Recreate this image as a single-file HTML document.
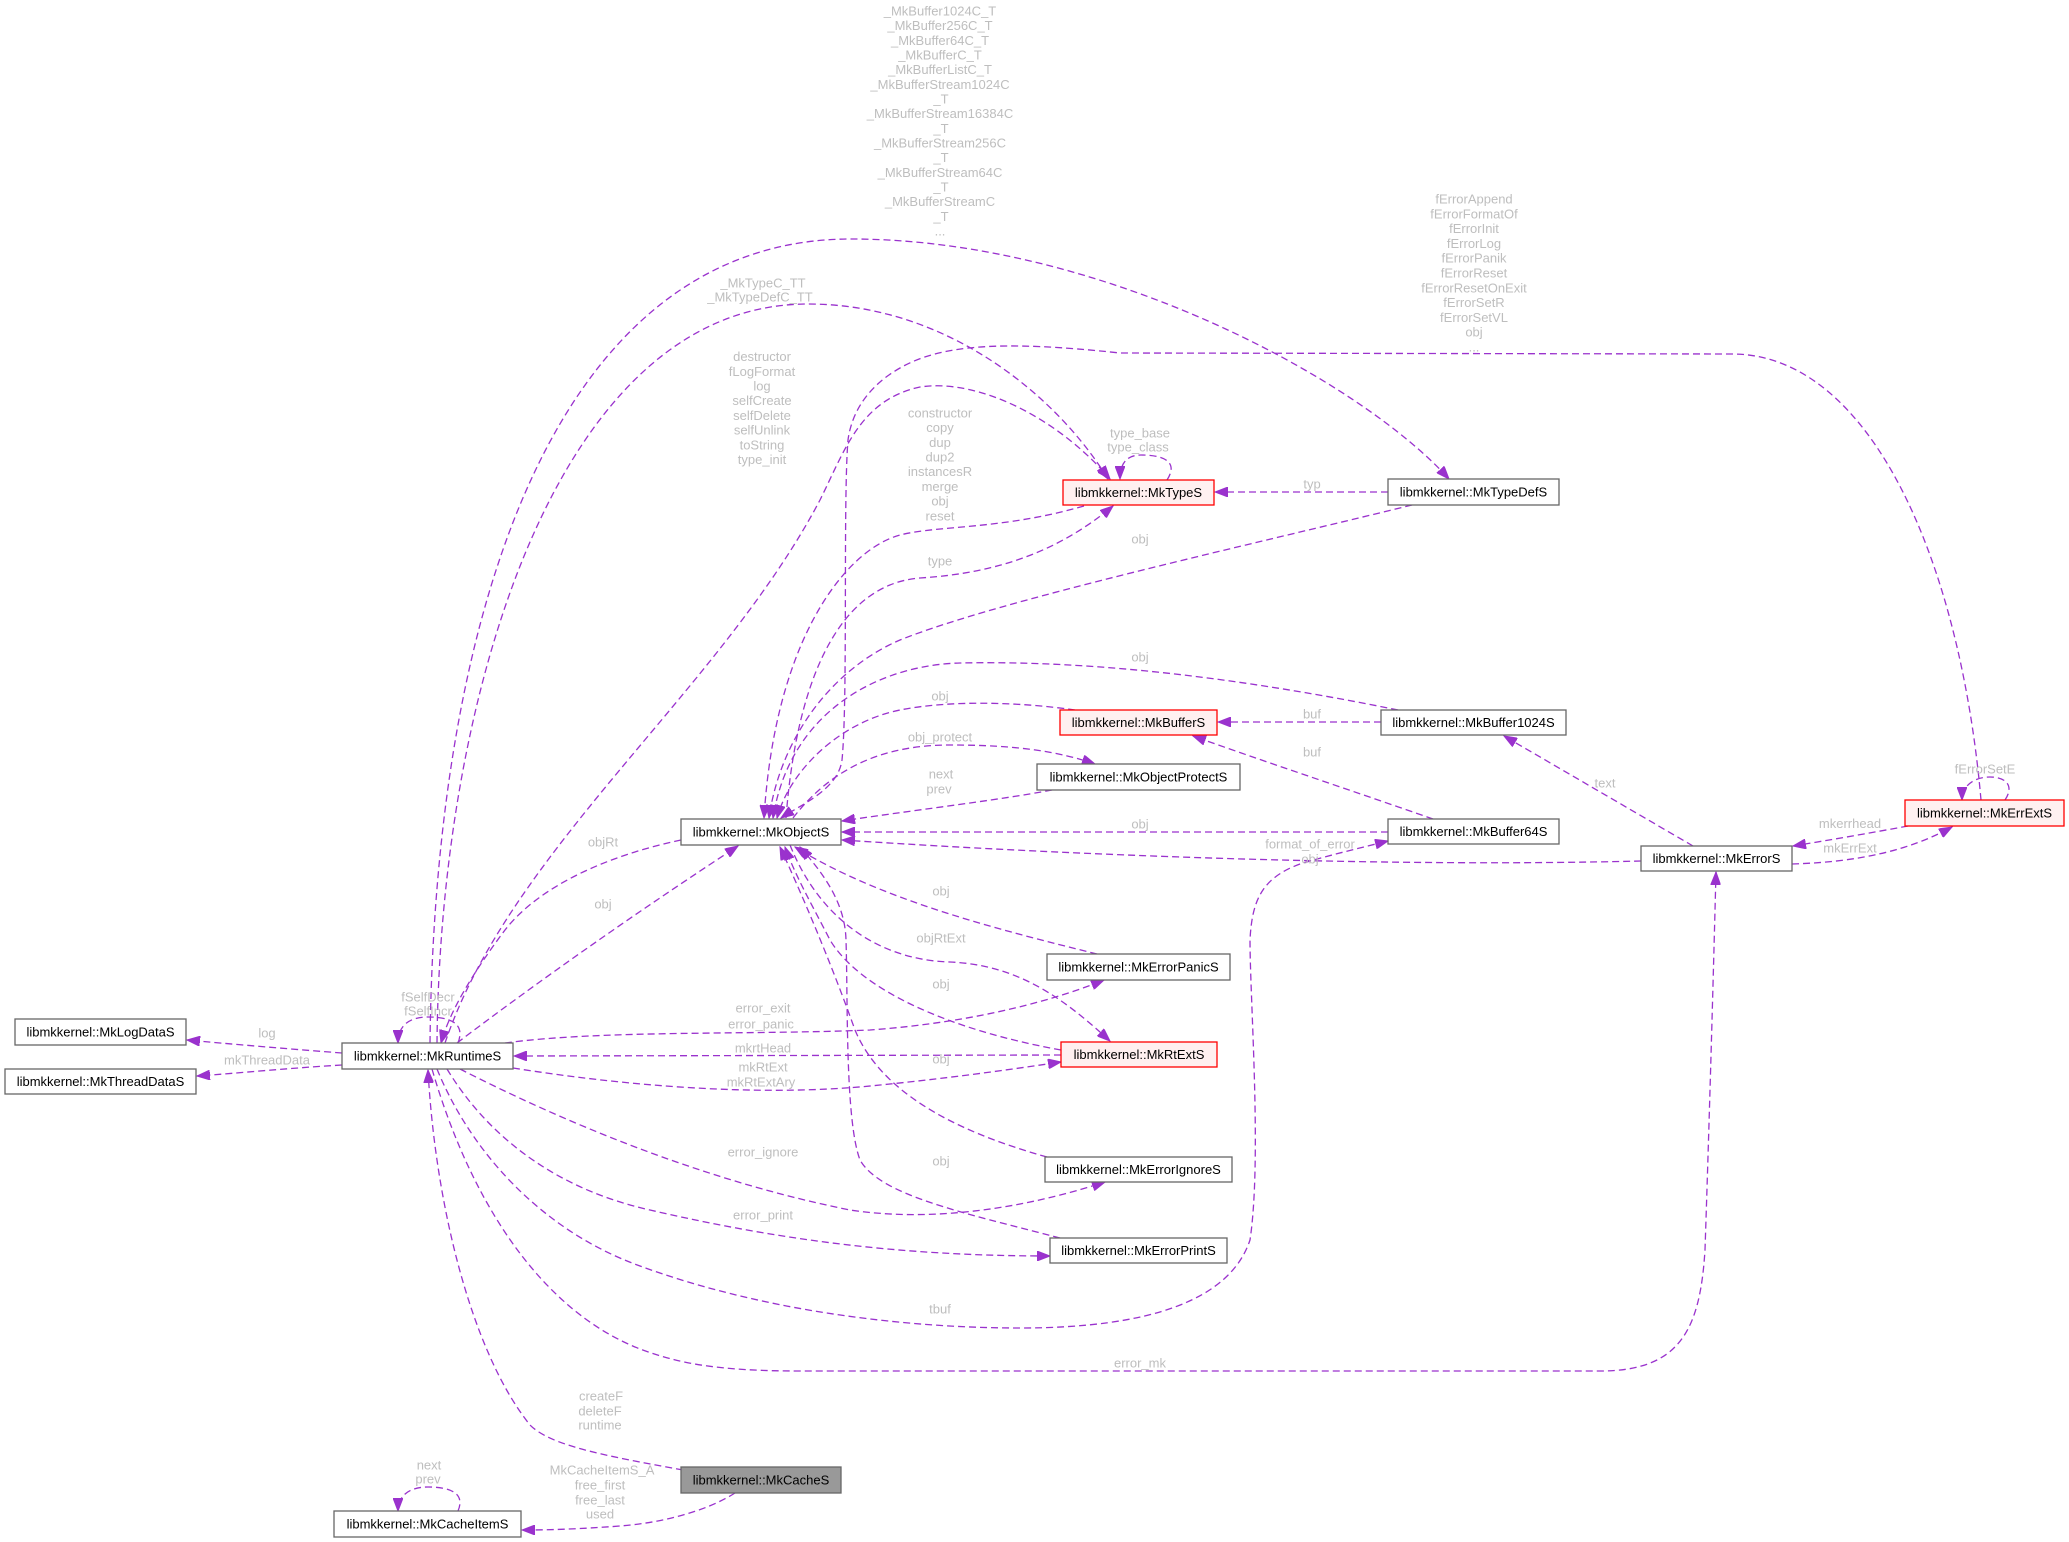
<!DOCTYPE html>
<html>
<head>
<meta charset="utf-8">
<style>
html,body{margin:0;padding:0;background:#fff;}
svg{display:block;font-family:"Liberation Sans",Arial,Helvetica,sans-serif;}
.e{fill:none;stroke:#9a32cd;stroke-width:1.3;stroke-dasharray:7,4;}
.ea{fill:none;stroke:#9a32cd;stroke-width:1.3;stroke-dasharray:7,4;marker-end:url(#ah);}
.l{fill:#bebebe;font-size:13px;text-anchor:middle;}
.n{fill:#000;font-size:13px;text-anchor:middle;}
.bw{fill:#fff;stroke:#666;stroke-width:1.3;}
.br{fill:#fff0f0;stroke:#ff0000;stroke-width:1.3;}
.bg{fill:#999;stroke:#666;stroke-width:1.3;}
</style>
</head>
<body>
<svg width="2069" height="1542" viewBox="0 0 2069 1542" xmlns="http://www.w3.org/2000/svg">
<defs>
<marker id="ah" markerWidth="14" markerHeight="10" refX="13" refY="5" orient="auto" markerUnits="userSpaceOnUse">
<path d="M0,0 L13,5 L0,10 z" fill="#9a32cd" stroke="#9a32cd" stroke-width="1"/>
</marker>
</defs>
<rect width="2069" height="1542" fill="#fff"/>

<!-- edges -->
<path class="ea" d="M342,1053 C290,1049 230,1044 187,1040"/>
<path class="ea" d="M342,1065 C290,1068 240,1073 197,1076"/>
<path class="ea" d="M458,1043 C466,1022 448,1017 428,1017 C410,1017 398,1025 398,1043"/>
<path class="ea" d="M683,1470 C600,1455 550,1445 530,1425 C470,1350 435,1200 428,1070"/>
<path class="ea" d="M735,1493 C705,1512 660,1523 620,1526 C580,1529 550,1530 522,1530"/>
<path class="ea" d="M458,1511 C466,1492 448,1487 428,1487 C410,1487 398,1495 398,1511"/>
<path class="ea" d="M457,1043 C540,980 640,910 738,846"/>
<path class="ea" d="M681,840 C610,855 540,885 505,930 C475,970 450,1010 441,1043"/>
<path class="ea" d="M430,1043 C435,600 560,239 851,239 C1100,239 1360,380 1449,479"/>
<path class="ea" d="M437,1043 C440,700 555,304 808,304 C950,304 1060,400 1108,479"/>
<path class="ea" d="M445,1043 C510,850 720,690 820,500 C845,450 860,400 920,387 C980,378 1060,420 1110,479"/>
<path class="ea" d="M1084,506 C1000,530 940,525 900,535 C845,550 775,640 764,818"/>
<path class="ea" d="M786,818 C795,700 830,585 920,578 C1000,573 1060,550 1113,506"/>
<path class="ea" d="M1167,480 C1180,460 1160,455 1141,455 C1128,455 1120,462 1120,479"/>
<path class="ea" d="M1388,492 L1215,492"/>
<path class="ea" d="M1412,505 C1250,545 1000,600 900,640 C830,670 780,740 769,818"/>
<path class="ea" d="M1398,710 C1250,680 1100,660 960,663 C880,665 790,710 773,818"/>
<path class="ea" d="M1075,710 C1020,702 950,700 900,710 C840,722 790,770 777,818"/>
<path class="ea" d="M793,818 C830,770 880,745 950,745 C1020,745 1060,752 1095,764"/>
<path class="ea" d="M1052,790 C1000,800 900,812 842,821"/>
<path class="ea" d="M1381,722 L1218,722"/>
<path class="ea" d="M1433,819 C1350,790 1260,760 1193,736"/>
<path class="ea" d="M1388,832 L842,832"/>
<path class="ea" d="M1641,861 C1400,867 1100,857 842,840"/>
<path class="ea" d="M437,1069 C470,1150 540,1230 640,1266 C760,1310 900,1328 1020,1328 C1150,1328 1230,1300 1250,1240 C1262,1160 1250,1000 1250,940 C1252,900 1262,878 1300,864 C1330,855 1360,848 1388,841"/>
<path class="ea" d="M432,1069 C470,1200 540,1310 640,1349 C680,1364 720,1371 800,1371 L1600,1371 C1680,1371 1700,1330 1705,1250 C1710,1100 1714,950 1716,872"/>
<path class="ea" d="M513,1068 C620,1085 760,1098 880,1085 C960,1077 1020,1068 1061,1062"/>
<path class="ea" d="M1061,1055 L514,1056"/>
<path class="ea" d="M505,1043 C600,1030 750,1035 870,1030 C980,1022 1060,998 1104,980"/>
<path class="ea" d="M460,1069 C560,1120 700,1180 850,1210 C950,1225 1050,1200 1105,1182"/>
<path class="ea" d="M447,1069 C490,1140 560,1190 650,1210 C780,1240 900,1256 1050,1256"/>
<path class="ea" d="M790,845 C820,920 880,960 950,962 C1020,965 1065,1000 1110,1041"/>
<path class="ea" d="M1061,1050 C950,1030 860,990 830,940 C812,905 795,875 785,847"/>
<path class="ea" d="M1097,954 C1000,930 880,900 795,847"/>
<path class="ea" d="M1047,1157 C950,1130 880,1090 855,1030 C830,960 800,890 780,847"/>
<path class="ea" d="M1060,1238 C960,1212 880,1195 860,1160 C845,1120 848,1000 846,940 C845,900 820,870 800,847"/>
<path class="ea" d="M1693,846 L1504,736"/>
<path class="ea" d="M1908,826 C1870,833 1830,840 1793,846"/>
<path class="ea" d="M1792,864 C1860,862 1910,850 1952,827"/>
<path class="ea" d="M2005,800 C2015,785 2005,777 1990,777 C1975,777 1962,785 1962,800"/>
<path class="ea" d="M1981,800 C1960,560 1870,354 1732,354 L1120,353 C1000,340 940,345 900,368 C870,385 852,410 848,440 C843,500 848,700 842,760 C838,790 800,805 781,818"/>

<!-- edge labels -->
<g class="l">
<text x="267" y="1037.5">log</text>
<text x="267" y="1064.5">mkThreadData</text>
<text x="428" y="1001.5">fSelfDecr</text>
<text x="428" y="1015.5">fSelfIncr</text>
<text x="601" y="1400.5">createF</text>
<text x="600" y="1415.5">deleteF</text>
<text x="600" y="1429.5">runtime</text>
<text x="602" y="1474.5">MkCacheItemS_A</text>
<text x="600" y="1489.5">free_first</text>
<text x="600" y="1504.5">free_last</text>
<text x="600" y="1518.5">used</text>
<text x="429" y="1469.5">next</text>
<text x="428" y="1483.5">prev</text>
<text x="603" y="846.5">objRt</text>
<text x="603" y="908.5">obj</text>

<text x="940" y="15.5">_MkBuffer1024C_T</text>
<text x="940" y="30.2">_MkBuffer256C_T</text>
<text x="940" y="44.8">_MkBuffer64C_T</text>
<text x="940" y="59.5">_MkBufferC_T</text>
<text x="940" y="74.2">_MkBufferListC_T</text>
<text x="940" y="88.8">_MkBufferStream1024C</text>
<text x="941" y="103.5">_T</text>
<text x="940" y="118.2">_MkBufferStream16384C</text>
<text x="941" y="132.8">_T</text>
<text x="940" y="147.5">_MkBufferStream256C</text>
<text x="941" y="162.2">_T</text>
<text x="940" y="176.8">_MkBufferStream64C</text>
<text x="941" y="191.5">_T</text>
<text x="940" y="206.2">_MkBufferStreamC</text>
<text x="941" y="220.8">_T</text>
<text x="940" y="235.5">...</text>

<text x="763" y="287.5">_MkTypeC_TT</text>
<text x="760" y="301.5">_MkTypeDefC_TT</text>

<text x="762" y="361">destructor</text>
<text x="762" y="375.8">fLogFormat</text>
<text x="762" y="390.5">log</text>
<text x="762" y="405.2">selfCreate</text>
<text x="762" y="419.9">selfDelete</text>
<text x="762" y="434.5">selfUnlink</text>
<text x="762" y="449.3">toString</text>
<text x="762" y="464">type_init</text>

<text x="940" y="417.5">constructor</text>
<text x="940" y="432.2">copy</text>
<text x="940" y="446.9">dup</text>
<text x="940" y="461.5">dup2</text>
<text x="940" y="476.2">instancesR</text>
<text x="940" y="490.9">merge</text>
<text x="940" y="505.5">obj</text>
<text x="940" y="520.3">reset</text>

<text x="940" y="565.5">type</text>
<text x="1140" y="437.5">type_base</text>
<text x="1138" y="451.5">type_class</text>
<text x="1312" y="488.5">typ</text>
<text x="1140" y="543.5">obj</text>
<text x="1140" y="661.5">obj</text>
<text x="940" y="700.5">obj</text>
<text x="940" y="741.5">obj_protect</text>
<text x="1312" y="718.5">buf</text>
<text x="1312" y="756.5">buf</text>
<text x="941" y="778.5">next</text>
<text x="939" y="793.5">prev</text>
<text x="1140" y="828.5">obj</text>
<text x="1310" y="848.5">format_of_error</text>
<text x="1310" y="863.5">obj</text>
<text x="941" y="895.5">obj</text>
<text x="941" y="942.5">objRtExt</text>
<text x="941" y="988.5">obj</text>
<text x="763" y="1012.5">error_exit</text>
<text x="761" y="1028.5">error_panic</text>
<text x="763" y="1052.5">mkrtHead</text>
<text x="941" y="1063.5">obj</text>
<text x="763" y="1071.5">mkRtExt</text>
<text x="761" y="1086.5">mkRtExtAry</text>
<text x="763" y="1156.5">error_ignore</text>
<text x="941" y="1165.5">obj</text>
<text x="763" y="1219.5">error_print</text>
<text x="940" y="1313.5">tbuf</text>
<text x="1140" y="1367.5">error_mk</text>

<text x="1474" y="203.5">fErrorAppend</text>
<text x="1474" y="218.3">fErrorFormatOf</text>
<text x="1474" y="233.1">fErrorInit</text>
<text x="1474" y="247.9">fErrorLog</text>
<text x="1474" y="262.7">fErrorPanik</text>
<text x="1474" y="277.5">fErrorReset</text>
<text x="1474" y="292.3">fErrorResetOnExit</text>
<text x="1474" y="307.1">fErrorSetR</text>
<text x="1474" y="321.9">fErrorSetVL</text>
<text x="1474" y="336.7">obj</text>
<text x="1474" y="351.5">...</text>

<text x="1605" y="787.5">text</text>
<text x="1850" y="828">mkerrhead</text>
<text x="1850" y="852.5">mkErrExt</text>
<text x="1985" y="773.5">fErrorSetE</text>
</g>

<!-- nodes -->
<rect class="bw" x="15" y="1019" width="171" height="26"/>
<text class="n" x="100.5" y="1036.5">libmkkernel::MkLogDataS</text>

<rect class="bw" x="5" y="1069" width="191" height="25"/>
<text class="n" x="100.5" y="1086">libmkkernel::MkThreadDataS</text>

<rect class="bw" x="342" y="1043" width="171" height="26"/>
<text class="n" x="427.5" y="1060.5">libmkkernel::MkRuntimeS</text>

<rect class="bw" x="334" y="1511" width="187" height="26"/>
<text class="n" x="427.5" y="1528.5">libmkkernel::MkCacheItemS</text>

<rect class="bg" x="681" y="1467" width="160" height="26"/>
<text class="n" x="761" y="1484.5">libmkkernel::MkCacheS</text>

<rect class="bw" x="681" y="819" width="160" height="26"/>
<text class="n" x="761" y="836.5">libmkkernel::MkObjectS</text>

<rect class="br" x="1063" y="480" width="151" height="25"/>
<text class="n" x="1138.5" y="497">libmkkernel::MkTypeS</text>

<rect class="bw" x="1388" y="479" width="171" height="26"/>
<text class="n" x="1473.5" y="496.5">libmkkernel::MkTypeDefS</text>

<rect class="br" x="1060" y="710" width="157" height="25"/>
<text class="n" x="1138.5" y="727">libmkkernel::MkBufferS</text>

<rect class="bw" x="1381" y="710" width="185" height="25"/>
<text class="n" x="1473.5" y="727">libmkkernel::MkBuffer1024S</text>

<rect class="bw" x="1037" y="764" width="203" height="26"/>
<text class="n" x="1138.5" y="781.5">libmkkernel::MkObjectProtectS</text>

<rect class="bw" x="1388" y="819" width="171" height="25"/>
<text class="n" x="1473.5" y="836">libmkkernel::MkBuffer64S</text>

<rect class="bw" x="1641" y="846" width="151" height="25"/>
<text class="n" x="1716.5" y="863">libmkkernel::MkErrorS</text>

<rect class="br" x="1905" y="800" width="159" height="26"/>
<text class="n" x="1984.5" y="817.5">libmkkernel::MkErrExtS</text>

<rect class="bw" x="1047" y="954" width="183" height="26"/>
<text class="n" x="1138.5" y="971.5">libmkkernel::MkErrorPanicS</text>

<rect class="br" x="1061" y="1042" width="156" height="25"/>
<text class="n" x="1139" y="1059">libmkkernel::MkRtExtS</text>

<rect class="bw" x="1045" y="1157" width="187" height="25"/>
<text class="n" x="1138.5" y="1174">libmkkernel::MkErrorIgnoreS</text>

<rect class="bw" x="1050" y="1238" width="177" height="25"/>
<text class="n" x="1138.5" y="1255">libmkkernel::MkErrorPrintS</text>
</svg>
</body>
</html>
